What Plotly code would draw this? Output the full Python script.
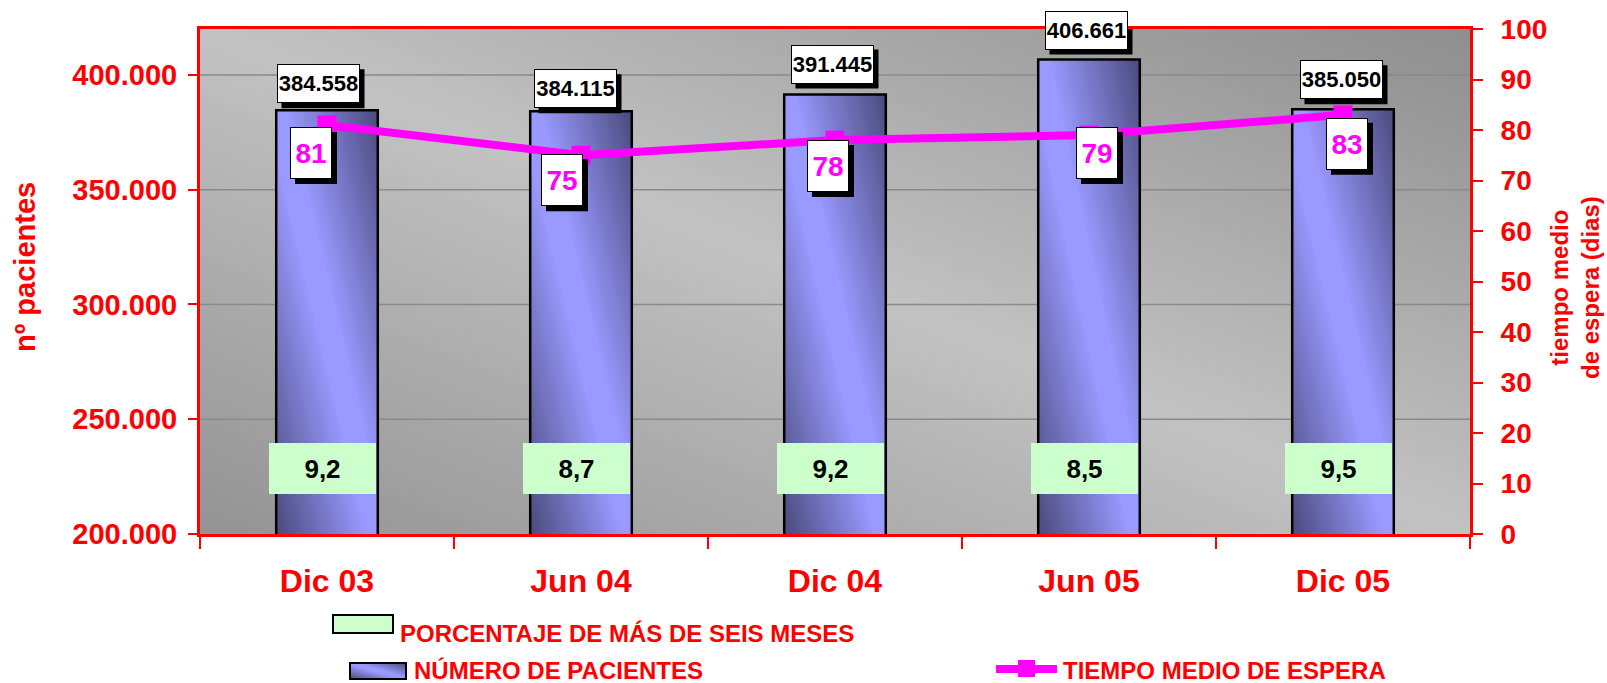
import urllib.parse
import plotly.graph_objects as go

# ---------------- data ----------------
categories = ["Dic 03", "Jun 04", "Dic 04", "Jun 05", "Dic 05"]
pacientes = [384558, 384115, 391445, 406661, 385050]
tiempo_medio = [81, 75, 78, 79, 83]
porcentaje = [9.2, 8.7, 9.2, 8.5, 9.5]

left_tickvals = [200000, 250000, 300000, 350000, 400000]
left_ticktext = ["200.000", "250.000", "300.000", "350.000", "400.000"]
right_tickvals = [0, 10, 20, 30, 40, 50, 60, 70, 80, 90, 100]
right_ticktext = ["0", "10", "20", "30", "40", "50", "60", "70", "80", "90", "100"]

legend_pct = "PORCENTAJE DE MÁS DE SEIS MESES"
legend_pac = "NÚMERO DE PACIENTES"
legend_tme = "TIEMPO MEDIO DE ESPERA"
title_left = "nº pacientes"
title_right = "tiempo medio<br>de espera (dias)"

# ---------------- geometry / style ----------------
W, H = 1607, 683
ML, MR, MT, MB = 200, 137, 29, 149
PW, PH = W - ML - MR, H - MT - MB
Y0, Y1 = 200000, 420000
FONT = "Liberation Sans"
RED = "#ff0000"
MAG = "#ff00ff"


def px(xp):
    return (xp - ML) / PW


def py(yp):
    return (H - MB - yp) / PH


def grad_uri(stops, x1, y1, x2, y2):
    s = "".join(f"<stop offset='{o}' stop-color='{c}'/>" for o, c in stops)
    svg = ("<svg xmlns='http://www.w3.org/2000/svg' width='100' height='100' "
           "viewBox='0 0 100 100' preserveAspectRatio='none'><defs>"
           f"<linearGradient id='g' x1='{x1}' y1='{y1}' x2='{x2}' y2='{y2}'>{s}"
           "</linearGradient></defs><rect width='100' height='100' fill='url(#g)'/></svg>")
    return "data:image/svg+xml;charset=utf-8," + urllib.parse.quote(svg)


bg_uri = grad_uri([(0, "#939393"), (0.5, "#c2c2c2"), (1, "#8e8e8e")], 0, 1, 1, 0)
bar_uri = grad_uri([(0, "#4a4a7c"), (0.45, "#9999ff"), (0.55, "#9999ff"), (1, "#4a4a7c")], 0, 1, 1, 0)

BAR_W = 0.4
# label nudges (pixels)
bar_dx = [-9, -6, -3, -3, -2]
bar_gap = [7, 3, 11, 10, 10]
lab_dx = [-16, -19, -7, 8, 4]
lab_dy = [2, -1, 0, -8, 3]
BW, BH = 83, 39      # value box size
LW, LH = 42, 52      # line label box size
SH = 5               # shadow offset
MK = 19              # marker size

fig = go.Figure()

fig.add_trace(go.Bar(
    x=categories, y=pacientes, width=BAR_W, name=legend_pac,
    marker=dict(color="rgba(0,0,0,0)", line=dict(color="black", width=2.5)),
    showlegend=False, hoverinfo="x+y"))

fig.add_trace(go.Scatter(
    x=categories, y=tiempo_medio, yaxis="y2", name=legend_tme,
    mode="lines+markers", line=dict(color=MAG, width=8),
    marker=dict(symbol="square", size=MK, color=MAG),
    showlegend=False, cliponaxis=False))

images = [dict(source=bg_uri, xref="paper", yref="paper", x=0, y=1, sizex=1, sizey=1,
               xanchor="left", yanchor="top", sizing="stretch", layer="below")]
for i, v in enumerate(pacientes):
    images.append(dict(source=bar_uri, xref="x", yref="y", x=i, y=v, sizex=BAR_W,
                       sizey=v - Y0, xanchor="center", yanchor="top",
                       sizing="stretch", layer="below"))
images.append(dict(source=bar_uri, xref="paper", yref="paper", x=px(350), y=py(663),
                   sizex=px(406) - px(350), sizey=py(663) - py(679),
                   xanchor="left", yanchor="top", sizing="stretch", layer="above"))

shapes = []
for t in left_tickvals[1:]:
    shapes.append(dict(type="line", xref="x", yref="y", x0=-0.5, x1=4.5, y0=t, y1=t,
                       line=dict(color="#8a8a8a", width=1.5), layer="below"))

# drop shadows of the labels (pixel-sized, anchored at the data points)
for i, v in enumerate(pacientes):
    shapes.append(dict(type="rect", xref="x", yref="y", xsizemode="pixel", ysizemode="pixel",
                       xanchor=i, yanchor=v,
                       x0=bar_dx[i] - BW / 2 + SH, x1=bar_dx[i] + BW / 2 + SH,
                       y0=bar_gap[i] - SH, y1=bar_gap[i] + BH - SH,
                       fillcolor="black", line=dict(width=0), layer="above"))
for i, t in enumerate(tiempo_medio):
    shapes.append(dict(type="rect", xref="x", yref="y2", xsizemode="pixel", ysizemode="pixel",
                       xanchor=i, yanchor=t,
                       x0=lab_dx[i] - LW / 2 + SH, x1=lab_dx[i] + LW / 2 + SH,
                       y0=-lab_dy[i] - LH - SH, y1=-lab_dy[i] - SH,
                       fillcolor="black", line=dict(width=0), layer="above"))

# legend swatches
shapes.append(dict(type="rect", xref="paper", yref="paper", x0=px(333), x1=px(393),
                   y0=py(633), y1=py(615), fillcolor="#ccffcc",
                   line=dict(color="black", width=2)))
shapes.append(dict(type="rect", xref="paper", yref="paper", x0=px(350), x1=px(406),
                   y0=py(679), y1=py(663), fillcolor="rgba(0,0,0,0)",
                   line=dict(color="black", width=2)))
shapes.append(dict(type="line", xref="paper", yref="paper", x0=px(996), x1=px(1057),
                   y0=py(669), y1=py(669), line=dict(color=MAG, width=8)))
shapes.append(dict(type="rect", xref="paper", yref="paper", x0=px(1018), x1=px(1035),
                   y0=py(677), y1=py(660), fillcolor=MAG, line=dict(width=0)))

ann = []


def bold(size, color):
    return dict(family=FONT, size=size, color=color, weight=700)


for i, v in enumerate(pacientes):
    ann.append(dict(
        x=i, y=v, xref="x", yref="y", text=f"{v:,}".replace(",", "."), showarrow=False,
        xanchor="center", yanchor="bottom", xshift=bar_dx[i], yshift=bar_gap[i],
        width=BW - 2, height=BH - 2, borderpad=0, borderwidth=1,
        bgcolor="white", bordercolor="black", font=bold(22, "black")))

for i, t in enumerate(tiempo_medio):
    ann.append(dict(
        x=i, y=t, xref="x", yref="y2", text=str(t), showarrow=False,
        xanchor="center", yanchor="top", xshift=lab_dx[i], yshift=-lab_dy[i],
        width=LW - 2, height=LH - 2, borderpad=0, borderwidth=1,
        bgcolor="white", bordercolor="black", font=bold(28, MAG)))

for i, p in enumerate(porcentaje):
    ann.append(dict(
        x=i, y=py(468), xref="x", yref="paper", text=f"{p:.1f}".replace(".", ","),
        showarrow=False, xanchor="center", yanchor="middle", xshift=-5,
        width=107, height=51, borderpad=0, borderwidth=0, bgcolor="#ccffcc",
        font=bold(26, "black")))

ann.append(dict(x=px(25), y=py(267), xref="paper", yref="paper", text=title_left,
                textangle=-90, showarrow=False, xanchor="center", yanchor="middle",
                font=bold(29, RED)))
ann.append(dict(x=px(1575), y=py(288), xref="paper", yref="paper", text=title_right,
                textangle=-90, showarrow=False, xanchor="center", yanchor="middle",
                font=bold(24, RED)))

ann.append(dict(x=px(398), y=py(633), xref="paper", yref="paper", text=legend_pct,
                showarrow=False, xanchor="left", yanchor="middle", font=bold(24, RED)))
ann.append(dict(x=px(412), y=py(670), xref="paper", yref="paper", text=legend_pac,
                showarrow=False, xanchor="left", yanchor="middle", font=bold(24, RED)))
ann.append(dict(x=px(1061), y=py(670), xref="paper", yref="paper", text=legend_tme,
                showarrow=False, xanchor="left", yanchor="middle", font=bold(24, RED)))

common_y = dict(showgrid=False, zeroline=False, tickcolor=RED, tickwidth=1.5)

fig.update_layout(
    width=W, height=H,
    margin=dict(l=ML, r=MR, t=MT, b=MB, pad=0),
    paper_bgcolor="white", plot_bgcolor="rgba(0,0,0,0)",
    showlegend=False,
    images=images, shapes=shapes, annotations=ann,
    xaxis=dict(type="category", range=[-0.5, 4.5], showline=True, linecolor=RED,
               linewidth=3, mirror=True, ticks="outside", tickson="boundaries",
               ticklen=12, tickcolor=RED, tickwidth=1.5, showgrid=False,
               tickfont=bold(32, RED), ticklabelstandoff=17),
    xaxis2=dict(overlaying="x", anchor="y", side="bottom", type="linear",
                range=[-0.5, 4.5], tickvals=[-0.5, 0.5, 1.5, 2.5, 3.5, 4.5],
                ticks="inside", ticklen=10, tickcolor=RED, tickwidth=1.5,
                showticklabels=False, showgrid=False, zeroline=False, showline=False),
    yaxis=dict(range=[Y0, Y1], tickvals=left_tickvals, ticktext=left_ticktext,
               ticks="outside", ticklen=9, showline=True, linecolor=RED, linewidth=3,
               mirror=True, tickfont=bold(29, RED), ticklabelstandoff=5, **common_y),
    yaxis3=dict(overlaying="y", anchor="x", side="left", range=[Y0, Y1],
                tickvals=left_tickvals, ticks="inside", ticklen=10,
                showticklabels=False, showline=False, **common_y),
    yaxis2=dict(overlaying="y", anchor="x", side="right", range=[0, 100],
                tickvals=right_tickvals, ticktext=right_ticktext, ticks="outside",
                ticklen=10, showline=True, linecolor=RED, linewidth=3,
                tickfont=bold(28, RED), ticklabelstandoff=12, **common_y),
    yaxis4=dict(overlaying="y", anchor="x", side="right", range=[0, 100],
                tickvals=right_tickvals, ticks="inside", ticklen=9,
                showticklabels=False, showline=False, **common_y),
)

fig.write_html("out.html",
               config={"displayModeBar": False},
               post_script="document.body.style.margin='0px';"
                           "document.body.style.overflow='hidden';")
